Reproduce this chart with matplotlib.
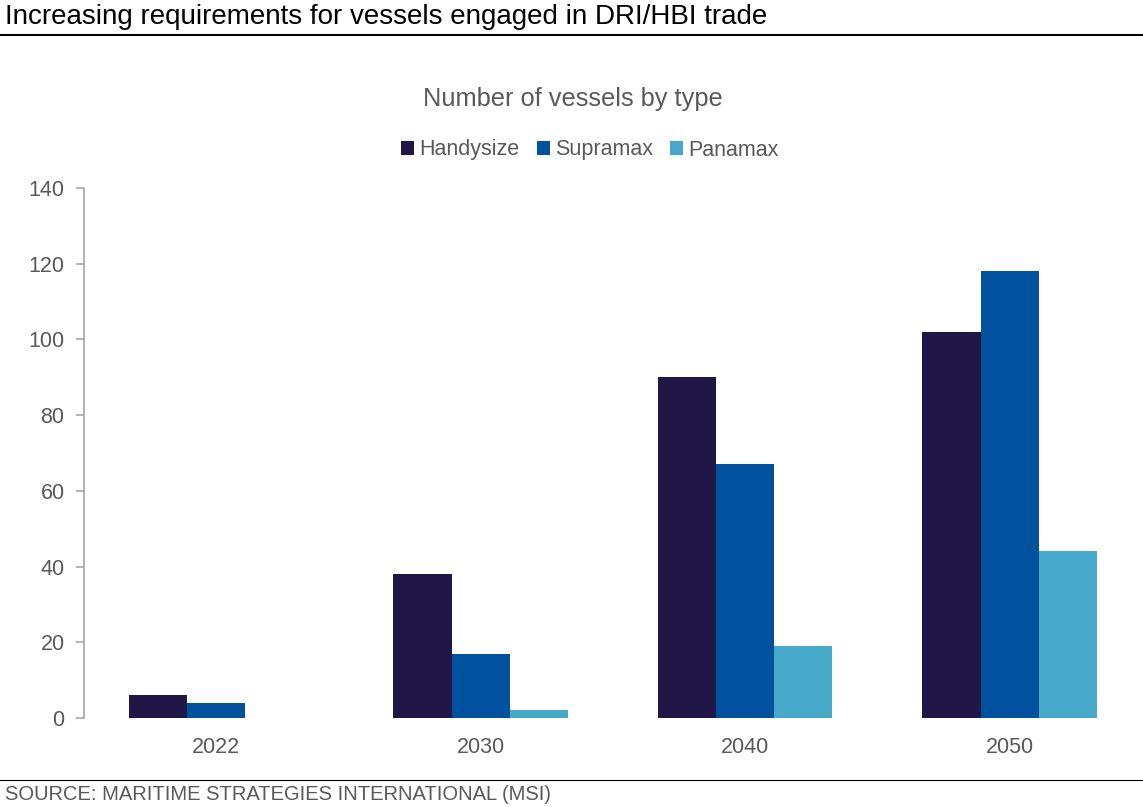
import matplotlib.pyplot as plt
import numpy as np

years = ['2022', '2030', '2040', '2050']
handysize = [6, 38, 90, 102]
supramax = [4, 17, 67, 118]
panamax = [0, 2, 19, 44]
series_names = ['Handysize', 'Supramax', 'Panamax']
colors = ['#201747', '#00529f', '#47a9c9']

plt.rcParams['font.family'] = ['Liberation Sans', 'DejaVu Sans']
grey = '#595959'

fig = plt.figure(figsize=(11.43, 8.07), dpi=100)
ax = fig.add_axes([0.0735, 0.1103, 0.9255, 0.6567])

x = np.arange(len(years))
w = 0.22
for i, (vals, name) in enumerate(zip([handysize, supramax, panamax], series_names)):
    ax.bar(x + (i - 1) * w, vals, width=w, color=colors[i], label=name)

ax.set_xlim(-0.5, 3.5)
ax.set_ylim(0, 140)
ax.set_yticks(range(0, 141, 20))
ax.set_xticks(x)
ax.set_xticklabels(years)
ax.tick_params(axis='y', colors='#a6a6a6', labelcolor=grey, labelsize=15.5, length=6, width=1.2, pad=8)
ax.tick_params(axis='x', length=0, labelcolor=grey, labelsize=15.5, pad=14)
for s in ['top', 'right', 'bottom']:
    ax.spines[s].set_visible(False)
ax.spines['left'].set_color('#a6a6a6')
ax.spines['left'].set_linewidth(1.2)

ax.legend(loc='center', bbox_to_anchor=(590 / 1143, 1 - 150 / 807), bbox_transform=fig.transFigure,
          ncol=3, frameon=False, fontsize=15.5, labelcolor=grey, handlelength=0.6, handleheight=0.6,
          handletextpad=0.25, columnspacing=0.8)

fig.text(573 / 1143, 1 - 99 / 807, 'Number of vessels by type', ha='center', va='center',
         fontsize=18.3, color=grey)
fig.text(5 / 1143, 1 - 17 / 807, 'Increasing requirements for vessels engaged in DRI/HBI trade',
         ha='left', va='center', fontsize=20, color='black')
fig.add_artist(plt.Line2D([0, 1], [1 - 35 / 807, 1 - 35 / 807], color='black', lw=1.5))
fig.add_artist(plt.Line2D([0, 1], [1 - 780 / 807, 1 - 780 / 807], color='black', lw=0.8))
fig.text(5 / 1143, 1 - 795 / 807, 'SOURCE: MARITIME STRATEGIES INTERNATIONAL (MSI)',
         ha='left', va='center', fontsize=14.5, color=grey)

fig.savefig('out.png', dpi=100)
